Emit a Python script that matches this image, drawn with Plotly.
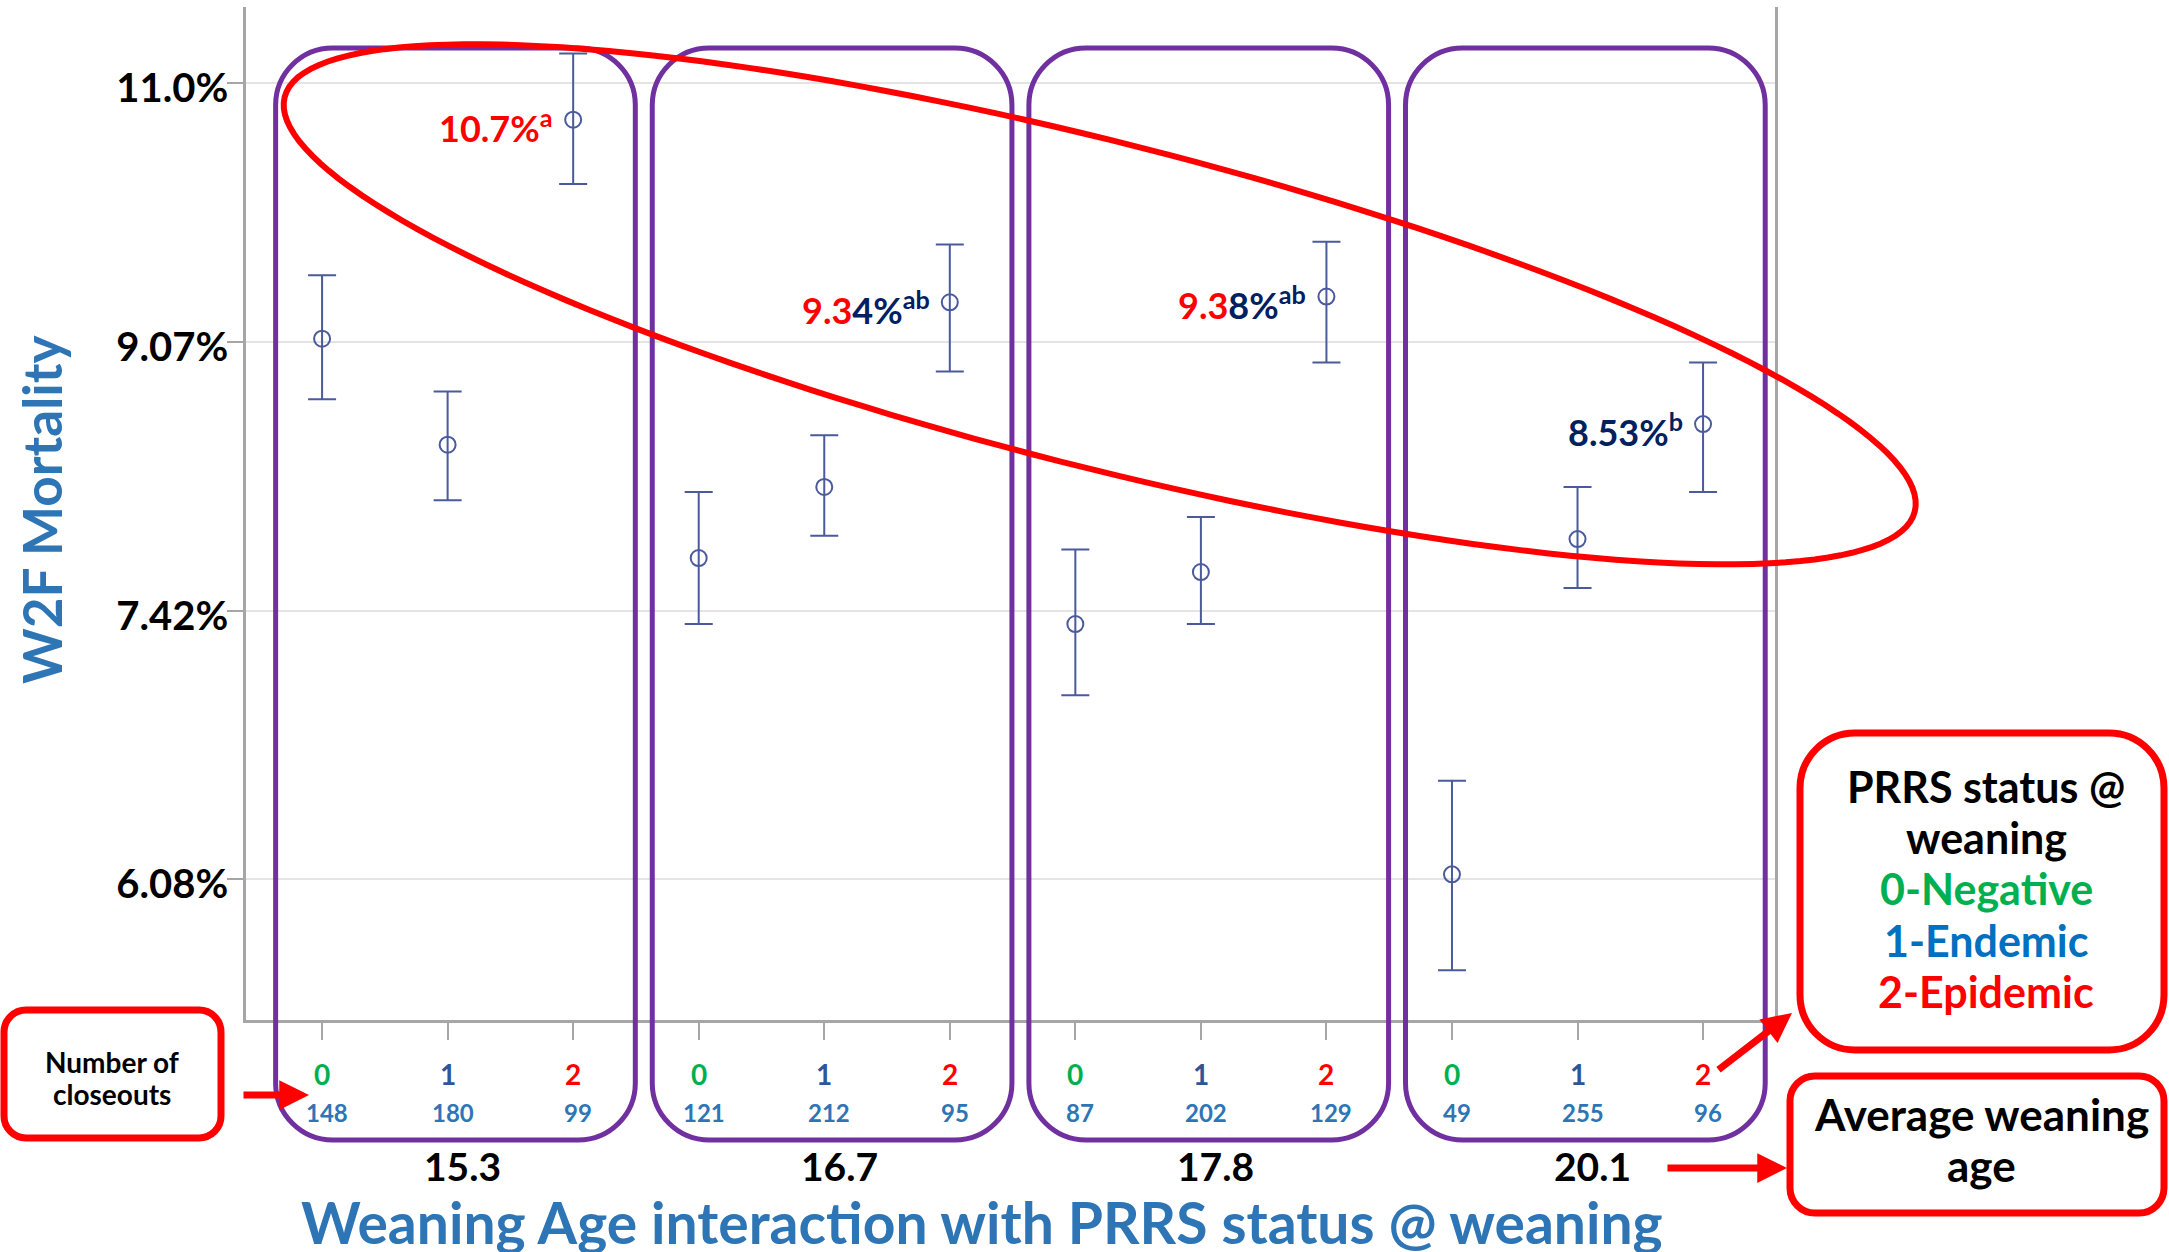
import math
import numpy as np
import plotly.graph_objects as go

# ---------------- data ----------------
weaning_age = ["15.3", "16.7", "17.8", "20.1"]          # average weaning age per group
prrs_status = ["0", "1", "2"]                            # PRRS status @ weaning
closeouts = [148, 180, 99, 121, 212, 95, 87, 202, 129, 49, 255, 96]
mortality = [9.09, 8.40, 10.70, 7.72, 8.14, 9.34, 7.35, 7.64, 9.38, 6.10, 7.83, 8.53]
ci_upper = [9.53, 8.74, 11.24, 8.11, 8.46, 9.75, 7.77, 7.96, 9.77, 6.54, 8.14, 8.93]
ci_lower = [8.69, 8.06, 10.20, 7.35, 7.85, 8.87, 6.97, 7.35, 8.93, 5.68, 7.55, 8.11]
y_tick_values = [6.08, 7.42, 9.07, 11.0]
y_tick_labels = ["6.08%", "7.42%", "9.07%", "11.0%"]
highlight_index = [2, 5, 8, 11]
highlight_red = ["10.7%", "9.3", "9.3", ""]
highlight_navy = ["", "4%", "8%", "8.53%"]
highlight_sup = ["a", "ab", "ab", "b"]
legend_title = ["PRRS status @", "weaning"]
legend_items = ["0-Negative", "1-Endemic", "2-Epidemic"]
closeout_note = ["Number of", "closeouts"]
age_note = ["Average weaning", "age"]

# ---------------- styles ----------------
W, H = 2169, 1252
PL, PR, PT, PB = 246, 1775, 7, 1020
XMIN, XMAX = -0.606, 11.573
YMIN, YMAX = 5.473, 11.637
FONT = "Lato"
BLUE_T = "#2E75B6"
PURPLE = "#7030A0"
RED = "#FF0000"
NAVY = "#002060"
EB = "#4A5A9C"
AXC = "#A6A6A6"
status_colors = ["#00B050", "#2F5597", "#FF0000"]
legend_colors = ["black", "black", "#00B050", "#0070C0", "#FF0000"]


def px_x(X):
    return (X - PL) / (PR - PL)


def px_y(Y):
    return (PB - Y) / (PB - PT)


def data_to_px(x):
    return PL + (x - XMIN) / (XMAX - XMIN) * (PR - PL)


def rrect_path(x0, y0, x1, y1, r):
    k = 0.5523 * r
    P = lambda X, Y: f"{px_x(X):.5f},{px_y(Y):.5f}"
    return (f"M {P(x0 + r, y0)} L {P(x1 - r, y0)} C {P(x1 - r + k, y0)} {P(x1, y0 + r - k)} {P(x1, y0 + r)} "
            f"L {P(x1, y1 - r)} C {P(x1, y1 - r + k)} {P(x1 - r + k, y1)} {P(x1 - r, y1)} "
            f"L {P(x0 + r, y1)} C {P(x0 + r - k, y1)} {P(x0, y1 - r + k)} {P(x0, y1 - r)} "
            f"L {P(x0, y0 + r)} C {P(x0, y0 + r - k)} {P(x0 + r - k, y0)} {P(x0 + r, y0)} Z")


def label(x, y, text, size, color="black", bold=True, xref="paper", yref="paper", **kw):
    d = dict(x=x, y=y, xref=xref, yref=yref, showarrow=False, text=text,
             xanchor="center", yanchor="middle",
             font=dict(family=FONT, size=size, color=color, weight="bold" if bold else "normal"))
    d.update(kw)
    return d


ng, ns = len(weaning_age), len(prrs_status)
xpos = [g * ns + s for g in range(ng) for s in range(ns)]

fig = go.Figure()
fig.add_trace(go.Scatter(
    x=xpos, y=mortality, mode="markers", showlegend=False, cliponaxis=False,
    marker=dict(symbol="circle-open", size=16, color=EB, line=dict(width=2, color=EB)),
    error_y=dict(type="data", symmetric=False,
                 array=[u - m for u, m in zip(ci_upper, mortality)],
                 arrayminus=[m - l for m, l in zip(mortality, ci_lower)],
                 color=EB, thickness=2, width=14),
))

shapes = []
# purple group boxes
for g in range(ng):
    x0 = data_to_px(g * ns - 0.37)
    x1 = data_to_px(g * ns + ns - 1 + 0.495)
    shapes.append(dict(type="path", xref="paper", yref="paper", layer="above",
                       path=rrect_path(x0, 48, x1, 1140, 57),
                       line=dict(color=PURPLE, width=5)))

# red ellipse around the epidemic means
cx, cy, a, b, th = 1099.7, 304.3, 841, 162, math.radians(14.27)
pts = []
for t in np.linspace(0, 2 * math.pi, 181):
    X = cx + a * math.cos(t) * math.cos(th) - b * math.sin(t) * math.sin(th)
    Y = cy + a * math.cos(t) * math.sin(th) + b * math.sin(t) * math.cos(th)
    pts.append(f"{px_x(X):.5f},{px_y(Y):.5f}")
shapes.append(dict(type="path", xref="paper", yref="paper", layer="above",
                   path="M " + " L ".join(pts) + " Z", line=dict(color=RED, width=6)))

# red callout boxes
shapes.append(dict(type="path", xref="paper", yref="paper", layer="above",
                   path=rrect_path(4, 1010, 221, 1138, 22), line=dict(color=RED, width=7)))
shapes.append(dict(type="path", xref="paper", yref="paper", layer="above",
                   path=rrect_path(1800, 733, 2164, 1050, 55), line=dict(color=RED, width=7)))
shapes.append(dict(type="path", xref="paper", yref="paper", layer="above",
                   path=rrect_path(1790, 1076, 2164, 1213, 25), line=dict(color=RED, width=7)))

ann = []
# status digits and closeout counts under each tick
for i, x in enumerate(xpos):
    s = i % ns
    ann.append(label(x, px_y(1074), prrs_status[s], 28, status_colors[s], xref="x"))
    ann.append(label(x + 0.04, px_y(1112), str(closeouts[i]), 24, BLUE_T, xref="x"))
# average weaning age per group
for g in range(ng):
    ann.append(label(g * ns + 1.12, px_y(1166), weaning_age[g], 39, "black", xref="x"))
# highlighted values
for k, idx in enumerate(highlight_index):
    sup_col = RED if highlight_navy[k] == "" else NAVY
    txt = ""
    if highlight_red[k]:
        txt += f"<span style='color:{RED}'>{highlight_red[k]}</span>"
    if highlight_navy[k]:
        txt += f"<span style='color:{NAVY}'>{highlight_navy[k]}</span>"
    txt += f"<span style='color:{sup_col}'><sup>{highlight_sup[k]}</sup></span>"
    ann.append(label(xpos[idx], math.log10(mortality[idx]), txt, 36, NAVY, xref="x", yref="y",
                     xanchor="right", xshift=-18, yshift=-6))
# axis titles
ann.append(label(px_x(42), px_y(510), "W2F Mortality", 53, BLUE_T, textangle=-90))
ann.append(label(px_x(982), px_y(1222), "Weaning Age interaction with PRRS status @ weaning", 57, BLUE_T))
# callout texts
for j, (t, yy) in enumerate(zip(closeout_note, [1062, 1094])):
    ann.append(label(px_x(112), px_y(yy), t, 28))
for t, c, yy in zip(legend_title + legend_items, legend_colors, [786, 837, 888, 940, 991]):
    ann.append(label(px_x(1986), px_y(yy), t, 43, c))
for t, yy in zip(age_note, [1114, 1165]):
    ann.append(label(px_x(1981), px_y(yy), t, 44))
# arrows
for (hx, hy, ax, ay) in [(309, 1095, -67, 0), (1787, 1168, -121, 0), (1792, 1013, -75, 58)]:
    ann.append(dict(x=px_x(hx), y=px_y(hy), xref="paper", yref="paper", text="",
                    showarrow=True, arrowhead=2, arrowsize=0.85, arrowwidth=7, arrowcolor=RED,
                    ax=ax, ay=ay, standoff=0))

fig.update_layout(
    width=W, height=H, margin=dict(l=PL, r=W - PR, t=PT, b=H - PB),
    plot_bgcolor="white", paper_bgcolor="white", showlegend=False,
    font=dict(family=FONT), shapes=shapes, annotations=ann,
    xaxis=dict(range=[XMIN, XMAX], tickvals=xpos, showticklabels=False, ticks="outside",
               ticklen=17, tickwidth=2, tickcolor=AXC, showline=True, linecolor=AXC,
               linewidth=2.5, showgrid=False, zeroline=False),
    yaxis=dict(type="log", range=[math.log10(YMIN), math.log10(YMAX)],
               tickvals=y_tick_values, ticktext=y_tick_labels, ticks="outside",
               ticklen=16, tickwidth=2, tickcolor=AXC, showline=True, mirror=True,
               linecolor=AXC, linewidth=2.5, showgrid=True, gridcolor="#E4E4E4", gridwidth=2,
               zeroline=False, ticklabelstandoff=-9, ticklabelshift=5,
               tickfont=dict(family=FONT, size=40, color="black", weight="bold")),
)

fig.write_html("out.html", config={"displayModeBar": False},
               post_script="document.body.style.margin='0';document.body.style.overflow='hidden';")
